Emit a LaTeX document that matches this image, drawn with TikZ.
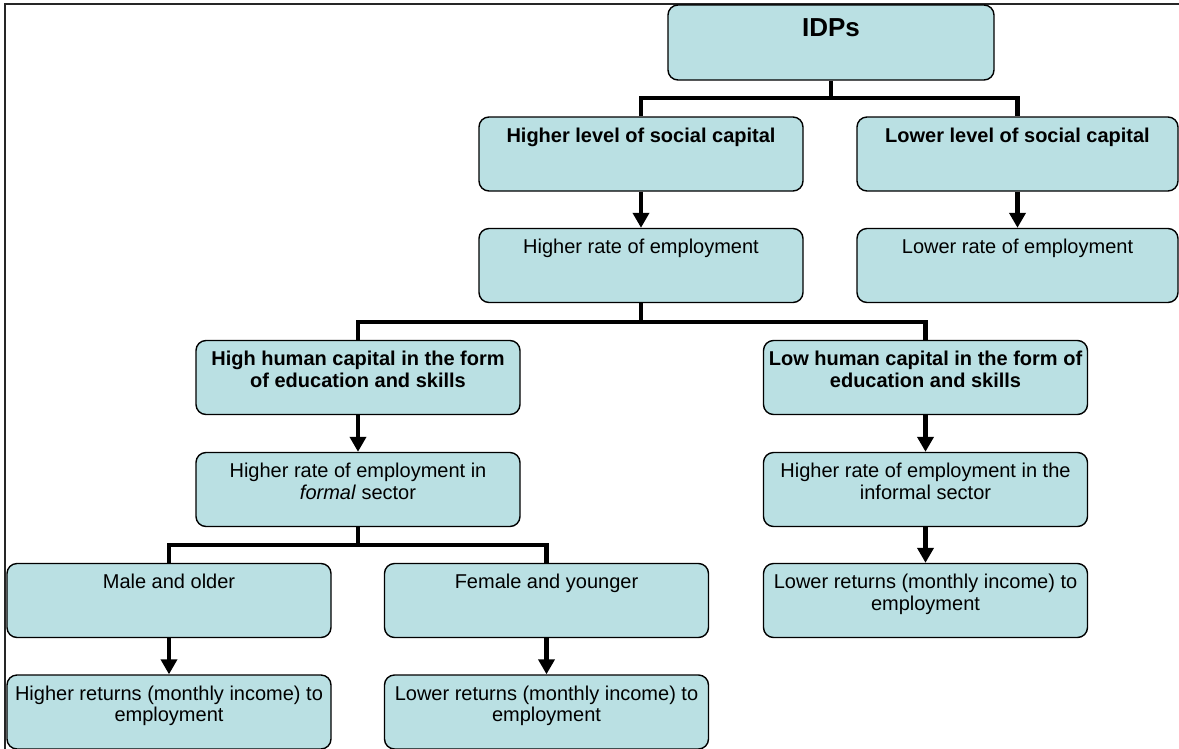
\documentclass[tikz,border=0pt]{standalone}
\usepackage{fontspec}
\setmainfont{Liberation Sans}
\usetikzlibrary{arrows.meta}
\definecolor{boxblue}{RGB}{186,224,227}
\newcommand\bt[2][25pt]{\parbox[c][74pt][t]{324pt}{\centering\rule{0pt}{#1}#2}}
\tikzset{
  box/.style={draw=black, line width=1.4pt, fill=boxblue, rounded corners=10pt,
    inner sep=0pt, font=\fontsize{20}{21.5}\selectfont},
  conn/.style={line width=4.5pt, line join=miter},
  arr/.style={conn, -{Triangle[width=16pt,length=15pt]}},
  frame/.style={line width=1.5pt, draw=black!85}
}
\begin{document}
\begin{tikzpicture}[x=1pt,y=-1pt]
\useasboundingbox (0,0) rectangle (1179,748);
\draw[frame] (5,760) -- (5,4) -- (1190,4);

\node[box] (idps) at (831,42.5) {\parbox[c][75pt][t]{326pt}{\centering\fontsize{26}{30}\selectfont\bfseries\rule{0pt}{31pt}IDPs}};

\node[box] (hsc) at (641,154) {\bt{\bfseries Higher level of social capital}};
\node[box] (lsc) at (1017.5,154) {\parbox[c][74pt][t]{321pt}{\centering\rule{0pt}{25pt}\bfseries Lower level of social capital}};
\node[box] (hre) at (641,265.5) {\bt{Higher rate of employment}};
\node[box] (lre) at (1017.5,265.5) {\parbox[c][74pt][t]{321pt}{\centering\rule{0pt}{25pt}Lower rate of employment}};

\node[box] (hhc) at (358,377.5) {\bt{\bfseries High human capital in the form\\of education and skills}};
\node[box] (lhc) at (925.5,377.5) {\bt{\bfseries Low human capital in the form of\\education and skills}};
\node[box] (hfs) at (358,489.5) {\bt{Higher rate of employment in\\\textit{formal} sector}};
\node[box] (his) at (925.5,489.5) {\bt{Higher rate of employment in the\\informal sector}};

\node[box] (mo) at (169,600.5) {\bt{Male and older}};
\node[box] (fy) at (546.5,600.5) {\bt{Female and younger}};
\node[box] (lrr) at (925.5,600.5) {\bt{Lower returns (monthly income) to\\employment}};
\node[box] (hr) at (169,712) {\bt{Higher returns (monthly income) to\\employment}};
\node[box] (lr) at (546.5,712) {\bt{Lower returns (monthly income) to\\employment}};

\coordinate (j1) at (831,98);
\coordinate (j2) at (641,322);
\coordinate (j3) at (358,545);

\draw[conn] (idps.south) -- (j1);
\draw[conn] (hsc.north) |- (j1) -| (lsc.north);
\draw[arr] (hsc.south) -- (hre.north);
\draw[arr] (lsc.south) -- (lre.north);

\draw[conn] (hre.south) -- (j2);
\draw[conn] (hhc.north) |- (j2) -| (lhc.north);
\draw[arr] (hhc.south) -- (hfs.north);
\draw[arr] (lhc.south) -- (his.north);
\draw[arr] (his.south) -- (lrr.north);

\draw[conn] (hfs.south) -- (j3);
\draw[conn] (mo.north) |- (j3) -| (fy.north);
\draw[arr] (mo.south) -- (hr.north);
\draw[arr] (fy.south) -- (lr.north);
\end{tikzpicture}
\end{document}
